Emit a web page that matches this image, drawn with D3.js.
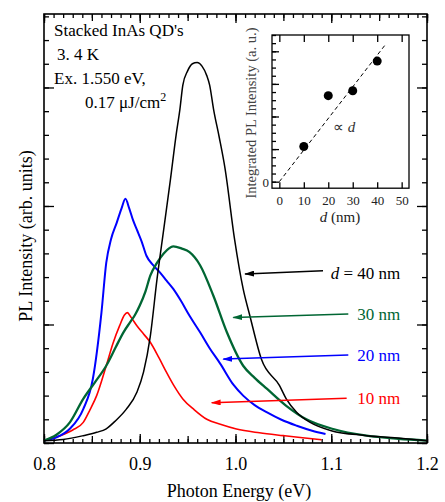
<!DOCTYPE html>
<meta charset="utf-8">
<style>

body {
  margin: 0;
  background: #fff;
}

svg {
  font-family: "Liberation Serif", "Times New Roman", serif;
}

.axis path {
  display: none;
}

.axis line {
  stroke: #000;
  stroke-width: 1.3;
}

</style>
<svg width="445" height="502"></svg>
<script src="https://d3js.org/d3.v7.min.js"></script>
<script>

// spectra, photon energy (eV) vs PL intensity (tick units)
var energy10 = [0.800, 0.817, 0.830, 0.841, 0.848, 0.855, 0.865, 0.872, 0.879, 0.884, 0.887, 0.891, 0.897, 0.904, 0.911, 0.920, 0.928, 0.936, 0.945, 0.957, 0.970, 0.985, 1.001, 1.025, 1.050, 1.070, 1.090];
var pl10     = [0.10, 0.31, 0.55, 0.87, 1.40, 2.00, 3.26, 4.20, 4.95, 5.40, 5.50, 5.30, 4.95, 4.60, 4.25, 3.60, 2.98, 2.40, 1.86, 1.40, 1.00, 0.78, 0.59, 0.43, 0.31, 0.22, 0.14];

var energy20 = [0.800, 0.813, 0.827, 0.841, 0.851, 0.860, 0.865, 0.870, 0.876, 0.881, 0.885, 0.889, 0.893, 0.897, 0.902, 0.907, 0.914, 0.921, 0.928, 0.935, 0.943, 0.952, 0.963, 0.973, 0.984, 0.998, 1.008, 1.020, 1.033, 1.048, 1.064, 1.080, 1.094];
var pl20     = [0.10, 0.24, 0.60, 1.43, 2.70, 5.50, 7.60, 8.60, 9.30, 9.90, 10.30, 9.90, 9.40, 9.00, 8.50, 7.90, 7.50, 7.20, 6.85, 6.50, 6.00, 5.37, 4.67, 4.00, 3.35, 2.45, 2.00, 1.60, 1.29, 0.98, 0.73, 0.52, 0.38];

var energy30 = [0.800, 0.813, 0.827, 0.841, 0.853, 0.865, 0.875, 0.883, 0.890, 0.895, 0.900, 0.906, 0.911, 0.918, 0.925, 0.935, 0.944, 0.952, 0.963, 0.977, 0.991, 1.008, 1.020, 1.033, 1.053, 1.074, 1.102, 1.137, 1.170, 1.200];
var pl30     = [0.10, 0.35, 0.87, 1.86, 2.55, 3.26, 4.05, 4.67, 5.10, 5.40, 5.80, 6.40, 7.06, 7.60, 8.00, 8.30, 8.20, 8.05, 7.50, 6.20, 4.67, 3.26, 2.75, 2.28, 1.57, 1.00, 0.59, 0.31, 0.18, 0.10];

var energy40 = [0.800, 0.820, 0.840, 0.855, 0.865, 0.875, 0.886, 0.897, 0.904, 0.911, 0.918, 0.925, 0.932, 0.938, 0.942, 0.945, 0.950, 0.955, 0.960, 0.965, 0.970, 0.973, 0.977, 0.983, 0.989, 0.999, 1.008, 1.015, 1.027, 1.046, 1.053, 1.064, 1.078, 1.100, 1.135, 1.172, 1.200];
var pl40     = [0.10, 0.15, 0.30, 0.45, 0.60, 0.95, 1.43, 2.14, 3.00, 4.50, 6.90, 9.00, 11.10, 13.00, 14.10, 15.10, 15.70, 16.00, 16.05, 15.90, 15.50, 15.10, 14.10, 12.90, 11.60, 8.60, 6.50, 5.37, 3.54, 2.42, 1.86, 1.29, 0.87, 0.52, 0.32, 0.20, 0.10];

// inset: integrated PL vs spacer thickness
var spacer = [10, 20, 30, 40];
var integratedPL = [1.08, 2.64, 2.79, 3.70];
var fitSlope = 0.097;

var xTickLabels = ["0.8", "0.9", "1.0", "1.1", "1.2"];
var insetTickLabels = ["0", "10", "20", "30", "40", "50"];

var series = [
  {name: "10 nm", color: "#ff0000", width: 1.6, e: energy10, v: pl10, tip: [0.9751, 1.70], tail: [1.1161, 1.89], text: [1.172, 1.65]},
  {name: "20 nm", color: "#0000ff", width: 2.0, e: energy20, v: pl20, tip: [0.9873, 3.54], tail: [1.1178, 3.71], text: [1.172, 3.44]},
  {name: "30 nm", color: "#006633", width: 2.3, e: energy30, v: pl30, tip: [0.9977, 5.30], tail: [1.1178, 5.44], text: [1.172, 5.19]},
  {name: "40 nm", color: "#000000", width: 1.5, e: energy40, v: pl40, tip: [1.0100, 7.13], tail: [1.0914, 7.27], text: [1.172, 6.92]}
];

var svg = d3.select("svg"),
    plotLeft = 44, plotRight = 427, plotTop = 14, plotBottom = 443;

var x = d3.scaleLinear().domain([0.8, 1.2]).range([plotLeft, plotRight]);
var y = d3.scaleLinear().domain([0, 18.1]).range([plotBottom, plotTop]);

// arrowheads
var defs = svg.append("defs");
series.forEach(function(s, i) {
  defs.append("marker")
      .attr("id", "head" + i)
      .attr("viewBox", "0 0 10 6")
      .attr("refX", 9)
      .attr("refY", 3)
      .attr("markerUnits", "userSpaceOnUse")
      .attr("markerWidth", 10)
      .attr("markerHeight", 6)
      .attr("orient", "auto")
    .append("path")
      .attr("d", "M0,0L10,3L0,6Z")
      .attr("fill", s.color);
});

// x ticks: 0.01 minor, 0.05 mid, 0.1 major, on bottom and top
var minorX = d3.range(80, 121).map(function(v) { return v / 100; });
var midX = d3.range(16, 25).map(function(v) { return v / 20; });
var majorX = d3.range(8, 13).map(function(v) { return v / 10; });

function xTicks(axisFn, ty, vals, size, labels) {
  var a = axisFn(x).tickValues(vals).tickSize(size).tickPadding(14);
  a.tickFormat(labels ? function(d, i) { return xTickLabels[i]; } : "");
  svg.append("g")
      .attr("class", "axis")
      .attr("transform", "translate(0," + ty + ")")
      .call(a);
}
xTicks(d3.axisBottom, plotBottom, minorX, -4, false);
xTicks(d3.axisBottom, plotBottom, midX, -7, false);
xTicks(d3.axisBottom, plotBottom, majorX, -9, true);
xTicks(d3.axisTop, plotTop, minorX, -4, false);
xTicks(d3.axisTop, plotTop, midX, -7, false);
xTicks(d3.axisTop, plotTop, majorX, -9, false);

svg.selectAll(".axis text")
    .attr("fill", "#000")
    .style("font-size", "18px")
    .style("font-family", "'Liberation Serif', serif");

// y ticks, no labels
var minorY = d3.range(0, 19);
var majorY = [0, 5, 10, 15];
function yTicks(axisFn, tx, vals, size) {
  svg.append("g")
      .attr("class", "axis")
      .attr("transform", "translate(" + tx + ",0)")
      .call(axisFn(y).tickValues(vals).tickSize(size).tickFormat(""));
}
yTicks(d3.axisLeft, plotLeft, minorY.filter(function(v) { return v <= 18; }), -5);
yTicks(d3.axisLeft, plotLeft, majorY, -10);
yTicks(d3.axisRight, plotRight, minorY.filter(function(v) { return v <= 18; }), -5);
yTicks(d3.axisRight, plotRight, majorY, -10);

// spectra
var line = d3.line()
    .x(function(d) { return x(d[0]); })
    .y(function(d) { return y(d[1]); })
    .curve(d3.curveMonotoneX);

svg.append("g")
  .selectAll("path")
  .data(series)
  .enter().append("path")
    .attr("fill", "none")
    .attr("stroke", function(d) { return d.color; })
    .attr("stroke-width", function(d) { return d.width; })
    .attr("stroke-linejoin", "round")
    .attr("d", function(d) { return line(d.e.map(function(e, i) { return [e, d.v[i]]; })); });

// frame
svg.append("rect")
    .attr("x", plotLeft)
    .attr("y", plotTop)
    .attr("width", plotRight - plotLeft)
    .attr("height", plotBottom - plotTop)
    .attr("fill", "none")
    .attr("stroke", "#000")
    .attr("stroke-width", 1.6);

// labels with arrows
var lab = svg.append("g");
lab.selectAll("line")
  .data(series)
  .enter().append("line")
    .attr("x1", function(d) { return x(d.tail[0]); })
    .attr("y1", function(d) { return y(d.tail[1]); })
    .attr("x2", function(d) { return x(d.tip[0]); })
    .attr("y2", function(d) { return y(d.tip[1]); })
    .attr("stroke", function(d) { return d.color; })
    .attr("stroke-width", 1.5)
    .attr("marker-end", function(d, i) { return "url(#head" + i + ")"; });

lab.selectAll("text")
  .data(series)
  .enter().append("text")
    .attr("x", function(d) { return x(d.text[0]); })
    .attr("y", function(d) { return y(d.text[1]); })
    .attr("text-anchor", "end")
    .attr("fill", function(d) { return d.color; })
    .style("font-size", "17px")
    .each(function(d) {
      var t = d3.select(this);
      if (d.name === "40 nm") {
        t.append("tspan").style("font-style", "italic").text("d");
        t.append("tspan").text(" = 40 nm");
      } else {
        t.text(d.name);
      }
    });

// sample info
var info = svg.append("g").style("font-size", "17px").attr("fill", "#000");
info.append("text").attr("x", 54).attr("y", 36).text("Stacked InAs QD's");
info.append("text").attr("x", 57).attr("y", 60).text("3. 4 K");
info.append("text").attr("x", 54).attr("y", 84).text("Ex. 1.550 eV,");
var flux = info.append("text").attr("x", 85).attr("y", 108);
flux.append("tspan").text("0.17 \u03bcJ/cm");
flux.append("tspan").attr("dy", -7).style("font-size", "12px").text("2");

// axis titles
svg.append("text")
    .attr("x", 239)
    .attr("y", 497)
    .attr("text-anchor", "middle")
    .style("font-size", "18px")
    .text("Photon Energy (eV)");

svg.append("text")
    .attr("transform", "translate(32,236) rotate(-90)")
    .attr("text-anchor", "middle")
    .style("font-size", "18px")
    .text("PL Intensity (arb. units)");

// inset
var ix = d3.scaleLinear().domain([-3, 53]).range([272, 409]);
var iy = d3.scaleLinear().domain([-0.2, 4.5]).range([188.2, 35]);
var inset = svg.append("g");

inset.append("rect")
    .attr("x", 272).attr("y", 35)
    .attr("width", 137).attr("height", 153.2)
    .attr("fill", "#fff")
    .attr("stroke", "#000")
    .attr("stroke-width", 1.3);

var insetX = d3.range(0, 51, 10);
inset.append("g").attr("class", "axis")
    .attr("transform", "translate(0,188.2)")
    .call(d3.axisBottom(ix).tickValues(insetX).tickSize(-6).tickPadding(8)
      .tickFormat(function(d, i) { return insetTickLabels[i]; }));
inset.append("g").attr("class", "axis")
    .attr("transform", "translate(0,35)")
    .call(d3.axisTop(ix).tickValues(insetX).tickSize(-7).tickFormat(""));
inset.append("g").attr("class", "axis")
    .attr("transform", "translate(272,0)")
    .call(d3.axisLeft(iy).tickValues(d3.range(0, 4.6, 0.25)).tickSize(-4).tickFormat(""));
inset.append("g").attr("class", "axis")
    .attr("transform", "translate(272,0)")
    .call(d3.axisLeft(iy).tickValues([0, 1, 2, 3, 4]).tickSize(-7).tickFormat(""));

inset.selectAll(".axis text")
    .attr("fill", "#222")
    .style("font-size", "13px")
    .style("font-family", "'Liberation Serif', serif");

inset.append("text")
    .attr("x", 269).attr("y", 186.5)
    .attr("text-anchor", "end")
    .attr("fill", "#222")
    .style("font-size", "13px")
    .text("0");

inset.append("line")
    .attr("x1", ix(0)).attr("y1", iy(0))
    .attr("x2", ix(43.2)).attr("y2", iy(43.2 * fitSlope))
    .attr("stroke", "#000")
    .attr("stroke-width", 1)
    .attr("stroke-dasharray", "4,3");

inset.selectAll("circle")
  .data(spacer)
  .enter().append("circle")
    .attr("cx", function(d) { return ix(d); })
    .attr("cy", function(d, i) { return iy(integratedPL[i]); })
    .attr("r", 4.5)
    .attr("fill", "#000");

var prop = inset.append("text")
    .attr("x", 333).attr("y", 132)
    .attr("fill", "#333")
    .style("font-size", "15px");
prop.append("tspan").text("\u221d ");
prop.append("tspan").style("font-style", "italic").text("d");

var dlab = inset.append("text")
    .attr("x", 340).attr("y", 222)
    .attr("text-anchor", "middle")
    .attr("fill", "#222")
    .style("font-size", "15px");
dlab.append("tspan").style("font-style", "italic").text("d");
dlab.append("tspan").text(" (nm)");

inset.append("text")
    .attr("transform", "translate(256,113) rotate(-90)")
    .attr("text-anchor", "middle")
    .attr("fill", "#444")
    .style("font-size", "14.5px")
    .text("Integrated PL Intensity (a. u.)");

</script>
